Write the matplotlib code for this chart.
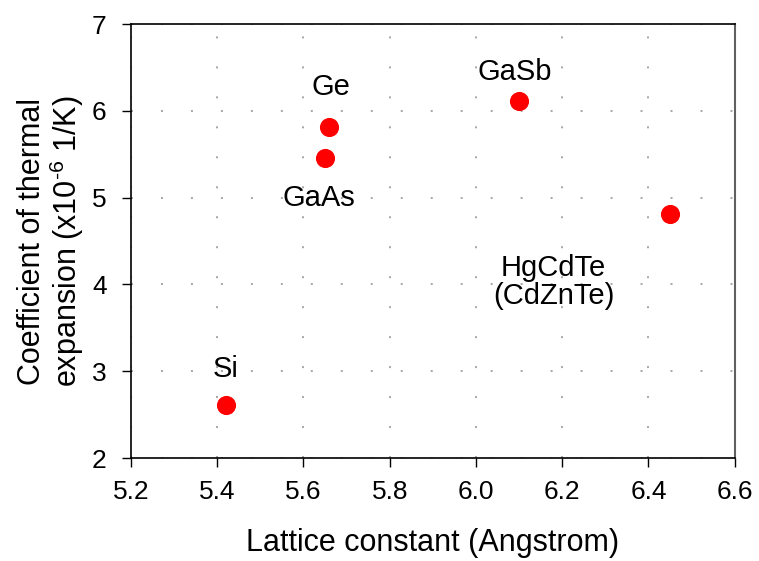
import matplotlib
matplotlib.use('Agg')
import matplotlib.pyplot as plt

# Data
materials = ['Si', 'GaAs', 'Ge', 'GaSb', 'HgCdTe\n(CdZnTe)']
lattice = [5.42, 5.65, 5.66, 6.10, 6.45]
expansion = [2.61, 5.46, 5.81, 6.11, 4.81]

# label anchor offsets (data units) relative to each point
label_dx = [0.0, -0.015, 0.003, -0.01, -0.27]
label_dy = [0.42, -0.47, 0.46, 0.335, -0.78]

plt.rcParams['font.family'] = ['Liberation Sans', 'DejaVu Sans']
plt.rcParams['mathtext.fontset'] = 'custom'
plt.rcParams['mathtext.rm'] = 'Liberation Sans'
plt.rcParams['mathtext.it'] = 'Liberation Sans'

fig = plt.figure(figsize=(7.59, 5.61), dpi=100)
ax = fig.add_axes([0.1726, 0.1836, 0.7954, 0.7736])

ax.scatter(lattice, expansion, s=190, color='#ff0000', zorder=3, linewidths=0)

for name, x, y, dx, dy in zip(materials, lattice, expansion, label_dx, label_dy):
    ax.text(x + dx, y + dy, name, ha='center', va='center', fontsize=21,
            linespacing=1.0, zorder=4)

ax.set_xlim(5.2, 6.6)
ax.set_ylim(2, 7)
ax.set_xticks([5.2, 5.4, 5.6, 5.8, 6.0, 6.2, 6.4, 6.6])
ax.set_xticklabels(['5.2', '5.4', '5.6', '5.8', '6.0', '6.2', '6.4', '6.6'])
ax.set_yticks([2, 3, 4, 5, 6, 7])

ax.grid(True, color='#a0a0a0', linewidth=1.3, linestyle=(0, (1.1, 15.5)))
ax.set_axisbelow(True)

ax.tick_params(axis='both', direction='out', length=6.5, width=1, labelsize=19,
               top=False, right=False)
ax.tick_params(axis='x', pad=9.5)
ax.tick_params(axis='y', pad=11)
for side in ['left', 'bottom', 'top']:
    ax.spines[side].set_linewidth(1.2)
ax.spines['right'].set_color('#606060')
ax.spines['right'].set_linewidth(1.5)

ax.set_xlabel('Lattice constant (Angstrom)', fontsize=22, labelpad=17)
ax.set_ylabel('Coefficient of thermal\nexpansion (x10$^{\\text{-}6}$ 1/K)', fontsize=22,
              labelpad=4, linespacing=1.05)

fig.savefig('out.png', dpi=100)
